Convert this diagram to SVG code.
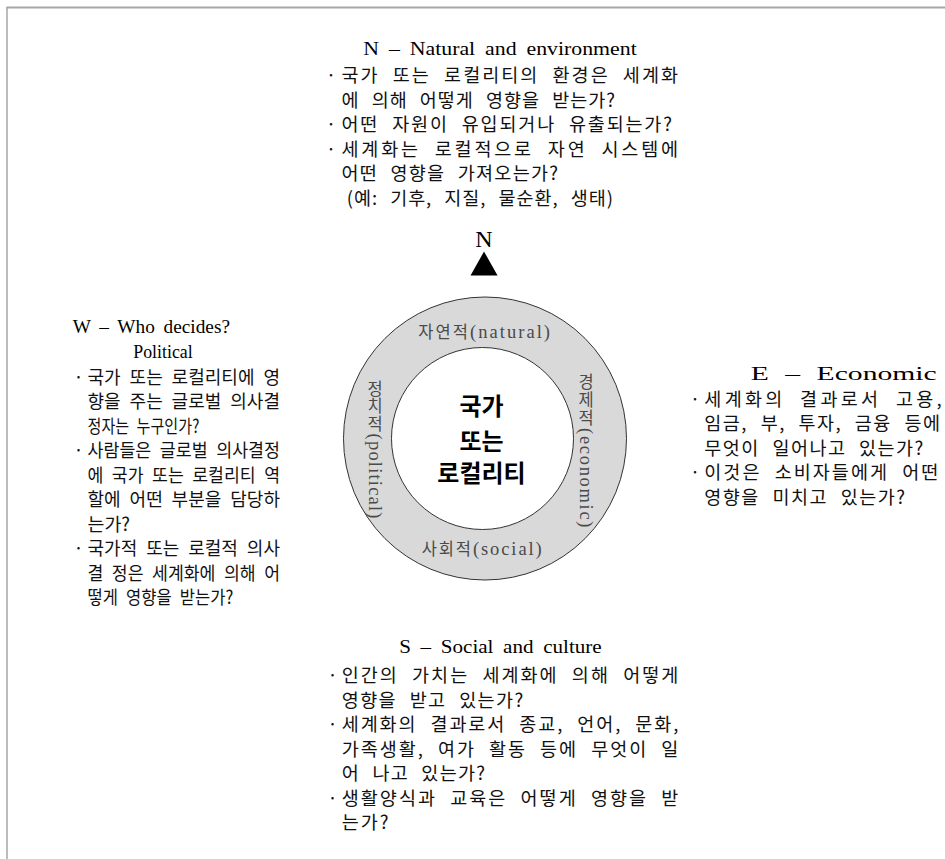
<svg xmlns="http://www.w3.org/2000/svg" width="945" height="859" viewBox="0 0 945 859">
<style>
.frame{fill:none;stroke:#a6a6a6}
.t{font-family:"Liberation Serif","Noto Sans CJK KR",serif;font-size:19.5px;fill:#000;word-spacing:4px}
.b{font-family:"Noto Sans CJK KR",sans-serif;font-size:18.5px;fill:#111;word-spacing:7px}
.bw{font-family:"Noto Sans CJK KR",sans-serif;font-size:18.5px;fill:#111;word-spacing:5px}
.dot{font-family:"Noto Sans CJK KR",sans-serif;font-size:18px;fill:#111;text-anchor:middle}
.ring{fill:#d9d9d9;stroke:#333;stroke-width:1}
.inner{fill:#fff;stroke:#333;stroke-width:1}
.rl{font-family:"Noto Sans CJK KR",sans-serif;font-size:16.5px;fill:#4a4a4a}
.rs{font-family:"Liberation Serif",serif;font-size:18.5px;fill:#4a4a4a}
.v{writing-mode:vertical-rl;text-orientation:mixed}
.c{font-family:"Noto Sans CJK KR",sans-serif;font-size:24px;font-weight:700;fill:#000;text-anchor:middle}
</style>
<rect x="0" y="0" width="945" height="859" fill="#fff"/>
<line class="frame" x1="7" y1="7" x2="7" y2="859" stroke-width="1.5"/>
<line class="frame" x1="6.5" y1="7.5" x2="945" y2="7.5" stroke-width="2"/>

<g id="connectors"></g>

<g id="compass">
<text x="484" y="247" font-family="Liberation Serif, serif" font-size="24" text-anchor="middle" fill="#000">N</text>
<polygon points="484,251.5 470.5,275.5 497.5,275.5" fill="#000"/>
</g>

<g id="node-n">
<text class="t" x="363.3" y="55" textLength="273.4" lengthAdjust="spacingAndGlyphs">N – Natural and environment</text>
<text class="dot" x="331" y="82">·</text>
<text class="b" x="341.5" y="82" textLength="336.5" lengthAdjust="spacing">국가 또는 로컬리티의 환경은 세계화</text>
<text class="b" x="341.5" y="106.5" textLength="273.5" lengthAdjust="spacing">에 의해 어떻게 영향을 받는가?</text>
<text class="dot" x="331" y="131">·</text>
<text class="b" x="341.5" y="131" textLength="330.5" lengthAdjust="spacing">어떤 자원이 유입되거나 유출되는가?</text>
<text class="dot" x="331" y="155.5">·</text>
<text class="b" x="341.5" y="155.5" textLength="336.5" lengthAdjust="spacing">세계화는 로컬적으로 자연 시스템에</text>
<text class="b" x="341.5" y="180" textLength="216.5" lengthAdjust="spacing">어떤 영향을 가져오는가?</text>
<text class="b" x="346.7" y="204.5" textLength="266.3" lengthAdjust="spacing">(예: 기후, 지질, 물순환, 생태)</text>
</g>

<g id="node-w">
<text class="t" x="72.7" y="333" textLength="157.3" lengthAdjust="spacingAndGlyphs">W – Who decides?</text>
<text class="t" x="133.3" y="357.5" textLength="59.4" lengthAdjust="spacingAndGlyphs">Political</text>
<text class="dot" x="78.5" y="383.5">·</text>
<text class="bw" x="87.5" y="383.5" textLength="192.5" lengthAdjust="spacingAndGlyphs">국가 또는 로컬리티에 영</text>
<text class="bw" x="87.5" y="408" textLength="192.5" lengthAdjust="spacingAndGlyphs">향을 주는 글로벌 의사결</text>
<text class="bw" x="87.5" y="432.5" textLength="111.8" lengthAdjust="spacingAndGlyphs">정자는 누구인가?</text>
<text class="dot" x="78.5" y="457">·</text>
<text class="bw" x="87.5" y="457" textLength="192.5" lengthAdjust="spacingAndGlyphs">사람들은 글로벌 의사결정</text>
<text class="bw" x="87.5" y="481.5" textLength="192.5" lengthAdjust="spacingAndGlyphs">에 국가 또는 로컬리티 역</text>
<text class="bw" x="87.5" y="506" textLength="192.5" lengthAdjust="spacingAndGlyphs">할에 어떤 부분을 담당하</text>
<text class="bw" x="87.5" y="530.5" textLength="42.5" lengthAdjust="spacingAndGlyphs">는가?</text>
<text class="dot" x="78.5" y="555">·</text>
<text class="bw" x="87.5" y="555" textLength="192.5" lengthAdjust="spacingAndGlyphs">국가적 또는 로컬적 의사</text>
<text class="bw" x="87.5" y="579.5" textLength="192.5" lengthAdjust="spacingAndGlyphs">결 정은 세계화에 의해 어</text>
<text class="bw" x="87.5" y="604" textLength="145.8" lengthAdjust="spacingAndGlyphs">떻게 영향을 받는가?</text>
</g>

<g id="node-e">
<text class="t" x="750.7" y="379.5" style="word-spacing:6px" textLength="186" lengthAdjust="spacingAndGlyphs">E – Economic</text>
<text class="dot" x="695" y="405.5">·</text>
<text class="b" x="704.3" y="405.5" textLength="237.4" lengthAdjust="spacing">세계화의 결과로서 고용,</text>
<text class="b" x="704.3" y="430" textLength="235.7" lengthAdjust="spacing">임금, 부, 투자, 금융 등에</text>
<text class="b" x="704.3" y="454.5" textLength="219" lengthAdjust="spacing">무엇이 일어나고 있는가?</text>
<text class="dot" x="695" y="479">·</text>
<text class="b" x="704.3" y="479" textLength="234" lengthAdjust="spacing">이것은 소비자들에게 어떤</text>
<text class="b" x="704.3" y="503.5" textLength="200.7" lengthAdjust="spacing">영향을 미치고 있는가?</text>
</g>

<g id="node-s">
<text class="t" x="399.3" y="653" textLength="202.4" lengthAdjust="spacingAndGlyphs">S – Social and culture</text>
<text class="dot" x="332.5" y="682">·</text>
<text class="b" x="341.7" y="682" textLength="336.6" lengthAdjust="spacing">인간의 가치는 세계화에 의해 어떻게</text>
<text class="b" x="341.7" y="706.5" textLength="181.6" lengthAdjust="spacing">영향을 받고 있는가?</text>
<text class="dot" x="332.5" y="731">·</text>
<text class="b" x="341.7" y="731" textLength="336.6" lengthAdjust="spacing">세계화의 결과로서 종교, 언어, 문화,</text>
<text class="b" x="341.7" y="755.5" textLength="336.6" lengthAdjust="spacing">가족생활, 여가 활동 등에 무엇이 일</text>
<text class="b" x="341.7" y="780" textLength="143.3" lengthAdjust="spacing">어 나고 있는가?</text>
<text class="dot" x="332.5" y="804.5">·</text>
<text class="b" x="341.7" y="804.5" textLength="336.6" lengthAdjust="spacing">생활양식과 교육은 어떻게 영향을 받</text>
<text class="b" x="341.7" y="829" textLength="46.9" lengthAdjust="spacing">는가?</text>
</g>

<g id="center">
<circle class="ring" cx="485" cy="438.5" r="141.5"/>
<circle class="inner" cx="482.5" cy="438.5" r="91"/>
<text class="rl" x="418.3" y="337.5" textLength="131.7" lengthAdjust="spacing">자연적<tspan class="rs">(natural)</tspan></text>
<text class="rl" x="421.7" y="555" textLength="120" lengthAdjust="spacing">사회적<tspan class="rs">(social)</tspan></text>
<text class="rl v" x="375" y="380" textLength="138" lengthAdjust="spacing">정치적<tspan class="rs">(political)</tspan></text>
<text class="rl v" x="586" y="373" textLength="154" lengthAdjust="spacing">경제적<tspan class="rs">(economic)</tspan></text>
<text class="c" x="481.5" y="415">국가</text>
<text class="c" x="481.5" y="449.5">또는</text>
<text class="c" x="481.5" y="482">로컬리티</text>
</g>
</svg>
